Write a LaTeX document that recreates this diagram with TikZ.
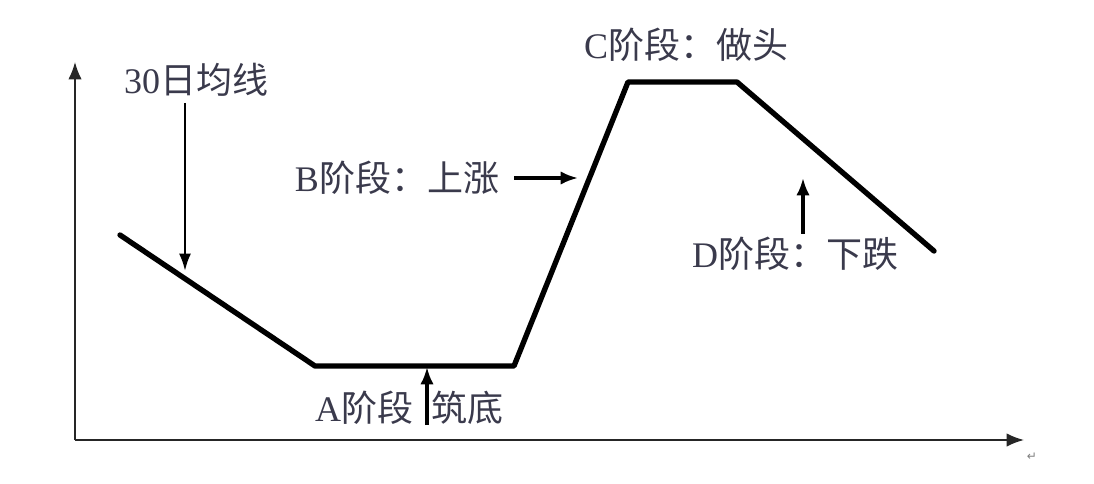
\documentclass[tikz,border=0pt]{standalone}
\usepackage{fontspec}
\usepackage{tikz}
\setmainfont{Liberation Serif}
\newfontfamily\cjk{Noto Sans CJK SC}
\newfontfamily\symb{DejaVu Sans}
\usetikzlibrary{arrows.meta}
\definecolor{inkgray}{HTML}{3A3A4C}
\newcommand{\lat}[1]{{\rmfamily #1}}

\begin{document}
\begin{tikzpicture}[x = 0.75pt, y = -0.75pt]
		\tikzset{> = {Latex[length = 13pt, width = 10pt]}}
		\tikzset{lbl/.style = {text = inkgray, inner sep = 0pt, font = \cjk\fontsize{27}{30}\selectfont}}
		\tikzset{pointer/.style = {->, line width = 2.4pt, black}}
		\useasboundingbox (0,0) rectangle (1094,484);
		\fill [white] (0,0) rectangle (1094,484);
		% axes
		\coordinate (o) at (75,440);
		\coordinate (ytop) at (75,62);
		\coordinate (xend) at (1024,440);
		\draw [->, line width = 1.3pt, black!85] (o) -- (ytop);
		\draw [->, line width = 1.3pt, black!85] (o) -- (xend);
		% price path
		\coordinate (p1) at (120,235);
		\coordinate (p2) at (315,366);
		\coordinate (p3) at (514,366);
		\coordinate (p4) at (628,82);
		\coordinate (p5) at (737,82);
		\coordinate (p6) at (934,251);
		\draw [line width = 4pt, line join = round, line cap = round] (p1) -- (p2) -- (p3) -- (p4) -- (p5) -- (p6);
		% labels
		\node [lbl] (ma) at (196,80) {\lat{30}日均线};
		\node [lbl] (stA) at (364,408) {\lat{A}阶段};
		\node [lbl] (stA2) at (467,408) {筑底};
		\node [lbl] (stB) at (397,178) {\lat{B}阶段：上涨};
		\node [lbl] (stC) at (686,45) {\lat{C}阶段：做头};
		\node [lbl] (stD) at (795,254) {\lat{D}阶段：下跌};
		\node [text = gray, font = \symb\fontsize{9}{10}\selectfont, inner sep = 0pt] (ret) at (1032,457) {↵};
		% pointers
		\coordinate (maTail) at (185,103);
		\coordinate (maTip) at (185,271);
		\coordinate (aTail) at (427,425);
		\coordinate (aTip) at (427,367);
		\coordinate (bTail) at (514,178);
		\coordinate (bTip) at (578,178);
		\coordinate (dTail) at (803,234);
		\coordinate (dTip) at (803,178);
		\draw [pointer, line width = 1.8pt, -{Latex[length = 13pt, width = 9pt]}] (maTail) -- (maTip);
		\draw [pointer] (aTail) -- (aTip);
		\draw [pointer] (bTail) -- (bTip);
		\draw [pointer] (dTail) -- (dTip);
	\end{tikzpicture}
\end{document}
